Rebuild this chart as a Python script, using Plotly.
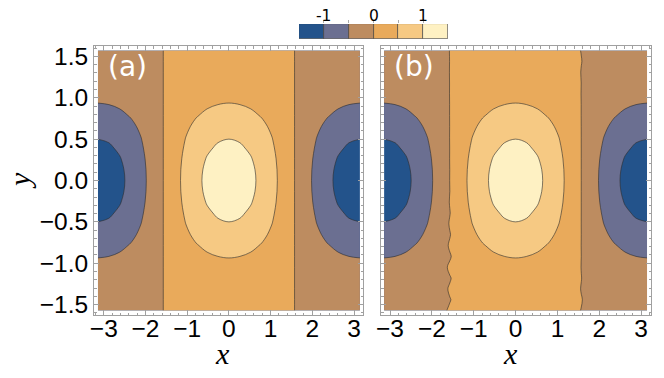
import plotly.graph_objects as go

# ---- data ----
# grid along x (radians) and value of the field along y = 0
x_vals = [-3.1416, -2.8798, -2.6180, -2.3562, -2.0944, -1.8326, -1.5708, -1.3090,
          -1.0472, -0.7854, -0.5236, -0.2618, 0.0, 0.2618, 0.5236, 0.7854, 1.0472,
          1.3090, 1.5708, 1.8326, 2.0944, 2.3562, 2.6180, 2.8798, 3.1416]
x_profile = [-1.265, -1.222, -1.095, -0.894, -0.633, -0.327, 0.004, 0.327,
             0.633, 0.894, 1.095, 1.222, 1.265, 1.222, 1.095, 0.894, 0.633,
             0.327, 0.004, -0.327, -0.633, -0.894, -1.095, -1.222, -1.265]
# grid along y and relative amplitude (1 at y = 0)
y_vals = [-1.5708, -1.4399, -1.3090, -1.1781, -1.0472, -0.9163, -0.7854, -0.6545,
          -0.5236, -0.3927, -0.2618, -0.1309, 0.0, 0.1309, 0.2618, 0.3927, 0.5236,
          0.6545, 0.7854, 0.9163, 1.0472, 1.1781, 1.3090, 1.4399, 1.5708]
y_profile = [0.08, 0.115, 0.165, 0.23, 0.31, 0.41, 0.53, 0.66, 0.775, 0.86, 0.935,
             0.983, 1.0, 0.983, 0.935, 0.86, 0.775, 0.66, 0.53, 0.41, 0.31, 0.23,
             0.165, 0.115, 0.08]
# panel (b): field values on the x = -pi/2 and x = +pi/2 columns (ragged zero lines)
b_left_zero = [0.010, -0.004, 0.012, -0.010, 0.030, -0.020, 0.030, -0.015, 0.025,
               -0.010, 0.015, 0.000, 0.005, 0.003, 0.006, 0.004, 0.006, 0.004,
               0.004, 0.003, 0.003, 0.002, 0.002, 0.001, 0.001]
b_right_zero = [-0.002, 0.004, -0.004, 0.002, -0.003, -0.001, -0.003, -0.002, -0.003,
                -0.003, -0.003, -0.003, -0.003, -0.003, -0.003, -0.003, -0.003,
                -0.003, -0.003, -0.002, -0.003, -0.001, -0.003, 0.002, -0.002]

# contour levels and legend bands
level_start, level_end, level_step = -1.0, 1.0, 0.5
band_centers = [-1.25, -0.75, -0.25, 0.25, 0.75, 1.25]
band_colors = ["#23538b", "#6b6f91", "#bd8c60", "#e9aa5b", "#f6c983", "#fef1c3"]
legend_ticks = [-1.0, -0.5, 0.0, 0.5, 1.0]
legend_label_vals = [-1, 0, 1]
legend_label_text = ["-1", "0", "1"]

x_ticks = [-3, -2, -1, 0, 1, 2, 3]
x_ticktext = ["\u22123", "\u22122", "\u22121", "0", "1", "2", "3"]
y_ticks = [-1.5, -1.0, -0.5, 0.0, 0.5, 1.0, 1.5]
y_ticktext = ["\u22121.5", "\u22121.0", "\u22120.5", "0.0", "0.5", "1.0", "1.5"]
panel_labels = ["(a)", "(b)"]

# field tables built from the profiles
z_a = [[yp * xp for xp in x_profile] for yp in y_profile]
left_col = x_vals.index(-1.5708)
right_col = x_vals.index(1.5708)
z_b = []
for i, row in enumerate(z_a):
    r = list(row)
    r[left_col] = b_left_zero[i]
    r[right_col] = b_right_zero[i]
    z_b.append(r)

n = len(band_colors)
colorscale = [[i / (n - 1), c] for i, c in enumerate(band_colors)]

fig = go.Figure()
for z, xa, ya in [(z_a, "x", "y"), (z_b, "x2", "y2")]:
    fig.add_trace(go.Contour(
        x=x_vals, y=y_vals, z=z, xaxis=xa, yaxis=ya,
        colorscale=colorscale, showscale=False, hoverinfo="skip",
        contours=dict(start=level_start, end=level_end, size=level_step, coloring="fill"),
        line=dict(color="rgba(45,45,45,0.75)", width=0.8, smoothing=1.0),
    ))

# legend bar drawn as a row of bars
fig.add_trace(go.Bar(
    x=band_centers, y=[1] * n, width=[level_step] * n, xaxis="x3", yaxis="y3",
    marker=dict(color=band_colors, line=dict(color="rgba(60,60,60,0.8)", width=0.8)),
    hoverinfo="skip", showlegend=False,
))

# page is drawn with an 8 px body margin: work in screenshot pixels
W, H, OFF = 656, 370, 8


def px(X):
    return (X - OFF) / W


def py(Y):
    return 1 - (Y - OFF) / H


tick_font = dict(family="Liberation Sans", size=24.5, color="black")
title_font = dict(family="Liberation Serif", size=30, color="black")
frame = dict(showline=True, linecolor="#a0a0a0", linewidth=1, mirror="ticks",
             ticks="inside", ticklen=5, tickcolor="#a0a0a0", zeroline=False,
             showgrid=False, tickfont=tick_font, automargin=False)

xa_dom = [px(94), px(363)]
xb_dom = [px(381), px(651)]
y_dom = [py(315), py(46)]
fig.update_layout(
    width=W, height=H, margin=dict(l=0, r=0, t=0, b=0, autoexpand=False),
    paper_bgcolor="white", plot_bgcolor="white", showlegend=False,
    font=dict(family="Liberation Sans"),
    xaxis=dict(domain=xa_dom, range=[-3.235, 3.215], tickvals=x_ticks,
               ticktext=x_ticktext, anchor="y", ticklabelstandoff=-8,
               minor=dict(ticks="inside", ticklen=2.5, dtick=0.2, tickcolor="#a0a0a0"),
               **frame),
    yaxis=dict(domain=y_dom, range=[-1.625, 1.625], tickvals=y_ticks,
               ticktext=y_ticktext, anchor="x",
               minor=dict(ticks="inside", ticklen=2.5, dtick=0.1, tickcolor="#a0a0a0"),
               **frame),
    xaxis2=dict(domain=xb_dom, range=[-3.215, 3.235], tickvals=x_ticks,
                ticktext=x_ticktext, anchor="y2", ticklabelstandoff=-8,
                minor=dict(ticks="inside", ticklen=2.5, dtick=0.2, tickcolor="#a0a0a0"),
                **frame),
    yaxis2=dict(domain=y_dom, range=[-1.625, 1.625], tickvals=y_ticks,
                showticklabels=False, anchor="x2",
                minor=dict(ticks="inside", ticklen=2.5, dtick=0.1, tickcolor="#a0a0a0"),
                **frame),
    xaxis3=dict(domain=[px(299), px(448)], range=[-1.5, 1.5], side="top",
                tickvals=legend_ticks, showticklabels=False, ticks="outside",
                ticklen=3, tickcolor="#aaaaaa", showgrid=False, zeroline=False,
                showline=False, anchor="y3", automargin=False),
    yaxis3=dict(domain=[py(39), py(24)], range=[0, 1], visible=False,
                anchor="x3", automargin=False),
    bargap=0,
)

# legend labels above the bar
for v, t in zip(legend_label_vals, legend_label_text):
    fig.add_annotation(text=t, x=v, y=py(15.5), xref="x3", yref="paper",
                       xanchor="center", yanchor="middle", showarrow=False,
                       borderpad=0, font=dict(family="DejaVu Sans", size=15.5, color="black"))

for lab, xr, yr in zip(panel_labels, ["x", "x2"], ["y", "y2"]):
    fig.add_annotation(text=lab, x=-2.95, y=1.38, xref=xr, yref=yr,
                       xanchor="left", yanchor="middle", showarrow=False,
                       font=dict(family="DejaVu Sans", size=28, color="white"))

# axis titles
for dom in (xa_dom, xb_dom):
    fig.add_annotation(text="<i>x</i>", x=(dom[0] + dom[1]) / 2 - 0.009, y=py(353),
                       xref="paper", yref="paper", xanchor="center", yanchor="middle",
                       showarrow=False, font=title_font)
fig.add_annotation(text="<i>y</i>", x=px(19), y=py(181), textangle=-90,
                   xref="paper", yref="paper", xanchor="center", yanchor="middle",
                   showarrow=False, font=title_font)

fig.write_html("out.html")
